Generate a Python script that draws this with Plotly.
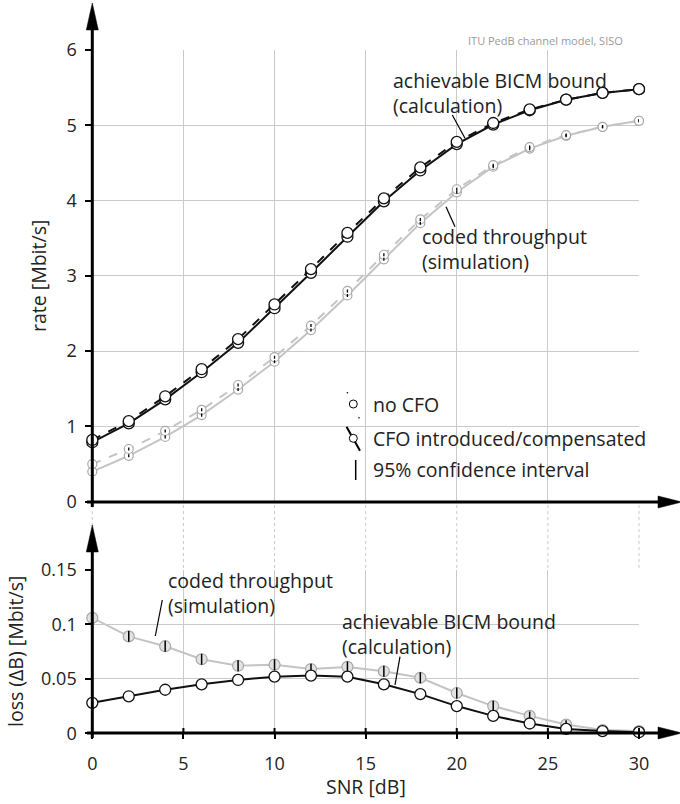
import plotly.graph_objects as go

# ---------------- data ----------------
snr = [0, 2, 4, 6, 8, 10, 12, 14, 16, 18, 20, 22, 24, 26, 28, 30]

bicm_nocfo = [0.82, 1.07, 1.40, 1.76, 2.16, 2.62, 3.09, 3.57, 4.03, 4.44, 4.78, 5.03, 5.21, 5.34, 5.43, 5.48]
bicm_cfo   = [0.79, 1.04, 1.36, 1.72, 2.11, 2.57, 3.04, 3.52, 3.99, 4.40, 4.75, 5.01, 5.20, 5.34, 5.43, 5.48]
thr_nocfo  = [0.50, 0.70, 0.94, 1.22, 1.55, 1.92, 2.34, 2.80, 3.28, 3.75, 4.15, 4.47, 4.71, 4.87, 4.98, 5.06]
thr_cfo    = [0.40, 0.61, 0.86, 1.15, 1.49, 1.86, 2.28, 2.74, 3.22, 3.70, 4.11, 4.45, 4.69, 4.86, 4.98, 5.06]
thr_ci     = [0.02] * 16

loss_bicm  = [0.028, 0.034, 0.040, 0.045, 0.049, 0.052, 0.053, 0.052, 0.045, 0.036, 0.025, 0.016, 0.009, 0.004, 0.002, 0.001]
loss_thr   = [0.106, 0.089, 0.080, 0.068, 0.062, 0.063, 0.059, 0.061, 0.057, 0.051, 0.037, 0.025, 0.016, 0.008, 0.003, 0.002]
loss_ci    = [0.003, 0.005, 0.005, 0.005, 0.005, 0.005, 0.005, 0.005, 0.005, 0.005, 0.005, 0.005, 0.004, 0.004, 0.003, 0.002]

x_ticks = [0, 5, 10, 15, 20, 25, 30]
y1_ticks = [0, 1, 2, 3, 4, 5, 6]
y2_ticks = [0, 0.05, 0.1, 0.15]
y2_labels = ["0", "0.05", "0.1", "0.15"]

W, H = 680, 804
FONT = "Open Sans"
GRAY = "#c4c4c4"
GRID = "#cacaca"
X0, X1 = 92.3, 639.0


def px(x):
    return x / W


def py(y):
    return 1 - y / H


fig = go.Figure()

# ---------- upper plot ----------
fig.add_trace(go.Scatter(x=snr, y=thr_cfo, mode="lines+markers", cliponaxis=False,
                         line=dict(color=GRAY, width=2),
                         marker=dict(size=9, color="white", line=dict(color="#a8a8a8", width=1.2)),
                         xaxis="x", yaxis="y"))
fig.add_trace(go.Scatter(x=snr, y=thr_nocfo, mode="lines+markers", cliponaxis=False,
                         line=dict(color=GRAY, width=2, dash="dash"),
                         marker=dict(size=9, color="white", line=dict(color="#a8a8a8", width=1.2)),
                         xaxis="x", yaxis="y"))
for arr in (thr_cfo, thr_nocfo):
    fig.add_trace(go.Scatter(x=snr, y=arr, mode="markers", cliponaxis=False,
                             marker=dict(size=1, color="rgba(0,0,0,0)"),
                             error_y=dict(type="data", array=thr_ci, color="black", thickness=1.3, width=0),
                             xaxis="x", yaxis="y"))
fig.add_trace(go.Scatter(x=snr, y=bicm_cfo, mode="lines+markers", cliponaxis=False,
                         line=dict(color="#111", width=2),
                         marker=dict(size=11, color="white", line=dict(color="#111", width=1.3)),
                         xaxis="x", yaxis="y"))
fig.add_trace(go.Scatter(x=snr, y=bicm_nocfo, mode="lines+markers", cliponaxis=False,
                         line=dict(color="#111", width=2, dash="dash"),
                         marker=dict(size=11, color="white", line=dict(color="#111", width=1.3)),
                         xaxis="x", yaxis="y"))

# ---------- lower plot ----------
fig.add_trace(go.Scatter(x=snr, y=loss_thr, mode="lines+markers", cliponaxis=False,
                         line=dict(color=GRAY, width=2),
                         marker=dict(size=11, color="#e2e2e2", line=dict(color="#a8a8a8", width=1.2)),
                         xaxis="x2", yaxis="y2"))
fig.add_trace(go.Scatter(x=snr, y=loss_thr, mode="markers", cliponaxis=False,
                         marker=dict(size=1, color="rgba(0,0,0,0)"),
                         error_y=dict(type="data", array=loss_ci, color="black", thickness=1.5, width=0),
                         xaxis="x2", yaxis="y2"))
fig.add_trace(go.Scatter(x=snr, y=loss_bicm, mode="lines+markers", cliponaxis=False,
                         line=dict(color="#111", width=2),
                         marker=dict(size=11, color="white", line=dict(color="#111", width=1.3)),
                         xaxis="x2", yaxis="y2"))

xdom = [px(X0), px(X1)]
axis_common = dict(showline=False, zeroline=False, gridcolor=GRID, gridwidth=1, automargin=False,
                   tickfont=dict(family=FONT, size=18, color="#222"))

fig.update_layout(
    width=W, height=H, margin=dict(l=0, r=0, t=0, b=0, autoexpand=False),
    paper_bgcolor="white", plot_bgcolor="white", showlegend=False,
    font=dict(family=FONT, color="#222"),
    xaxis=dict(domain=xdom, range=[0, 30], anchor="y", tickvals=x_ticks, showticklabels=False,
               ticks="", **axis_common),
    yaxis=dict(domain=[py(501.7), py(50)], range=[0, 6], anchor="x", tickvals=y1_ticks,
               ticks="outside", ticklen=6, tickwidth=2, tickcolor="black", ticklabelstandoff=5,
               **axis_common),
    xaxis2=dict(domain=xdom, range=[0, 30], anchor="y2", tickvals=x_ticks,
                ticks="outside", ticklen=5, tickwidth=2, tickcolor="black", ticklabelstandoff=9,
                **axis_common),
    yaxis2=dict(domain=[py(733.3), py(570)], range=[0, 0.15], anchor="x2", tickvals=y2_ticks,
                ticktext=y2_labels, ticks="outside", ticklen=6, tickwidth=2, tickcolor="black",
                ticklabelstandoff=5, **axis_common),
)

shapes = []


def pline(x0, y0, x1, y1, color="black", width=3, dash=None):
    d = dict(type="line", xref="paper", yref="paper", x0=px(x0), y0=py(y0), x1=px(x1), y1=py(y1),
             line=dict(color=color, width=width))
    if dash:
        d["line"]["dash"] = dash
    shapes.append(d)


def ppath(points, color="black"):
    p = "M " + " L ".join(f"{px(a):.5f},{py(b):.5f}" for a, b in points) + " Z"
    shapes.append(dict(type="path", xref="paper", yref="paper", path=p,
                       fillcolor=color, line=dict(color=color, width=0.5)))


# dotted connectors between the two plots
for xv in x_ticks:
    xp = X0 + xv * (X1 - X0) / 30
    pline(xp, 505, xp, 570, color=GRID, width=1, dash="dot")

# x-axis tick stubs above the lower axis line
for xv in x_ticks[1:]:
    xp = X0 + xv * (X1 - X0) / 30
    pline(xp, 728, xp, 734, color="black", width=2)

# axes with arrows
pline(X0, 507, X0, 28, width=3)
ppath([(X0, 3), (X0 - 6, 30), (X0 + 6, 30)])
pline(87, 502, 660, 502, width=3)
ppath([(682, 502), (658, 496), (658, 508)])
pline(X0, 738, X0, 550, width=3)
ppath([(X0, 525), (X0 - 6, 552), (X0 + 6, 552)])
pline(87, 733, 660, 733, width=3)
ppath([(682, 733), (658, 727), (658, 739)])

# leader lines
pline(452.3, 115, 465, 138.3, width=1.2)
pline(446, 206.7, 455, 226.7, width=1.2)
pline(162.3, 600, 155.3, 636, width=1.2)
pline(400, 656.7, 395, 685, width=1.2)

# legend glyphs
pline(346.5, 426.7, 360, 450.7, width=2)
shapes.append(dict(type="circle", xref="paper", yref="paper",
                   x0=px(349.3), x1=px(357.3), y0=py(434.3), y1=py(442.3),
                   fillcolor="white", line=dict(color="black", width=1)))
shapes.append(dict(type="circle", xref="paper", yref="paper",
                   x0=px(346.6), x1=px(348.2), y0=py(391.9), y1=py(393.5),
                   fillcolor="black", line=dict(color="black", width=0)))
shapes.append(dict(type="circle", xref="paper", yref="paper",
                   x0=px(358.2), x1=px(359.8), y0=py(416.9), y1=py(418.5),
                   fillcolor="black", line=dict(color="black", width=0)))
shapes.append(dict(type="circle", xref="paper", yref="paper",
                   x0=px(349.3), x1=px(357.3), y0=py(400), y1=py(408),
                   fillcolor="white", line=dict(color="black", width=1)))
pline(355.7, 460, 355.7, 480, width=1.5)

fig.update_layout(shapes=shapes)

ann = []


def text(x, y, s, size=19.5, color="#222", xanchor="left", angle=0):
    ann.append(dict(xref="paper", yref="paper", x=px(x), y=py(y), text=s, showarrow=False,
                    xanchor=xanchor, yanchor="middle", textangle=angle, align="left",
                    font=dict(family=FONT, size=size, color=color)))


text(625, 40, "ITU PedB channel model, SISO", size=11, color="#9a9a9a", xanchor="right")
text(391.5, 92.5, "achievable BICM bound<br>(calculation)")
text(419.5, 249, "coded throughput<br>(simulation)")
text(371, 404, "no CFO")
text(371, 438, "CFO introduced/compensated")
text(371, 470, "95% confidence interval")
text(166, 593, "coded throughput<br>(simulation)")
text(340, 634, "achievable BICM bound<br>(calculation)")
text(38, 276, "rate [Mbit/s]", xanchor="center", angle=-90)
text(15, 652, "loss (ΔB) [Mbit/s]", xanchor="center", angle=-90)
text(366, 786, "SNR [dB]", xanchor="center")

fig.update_layout(annotations=ann)

fig.write_html("out.html")
